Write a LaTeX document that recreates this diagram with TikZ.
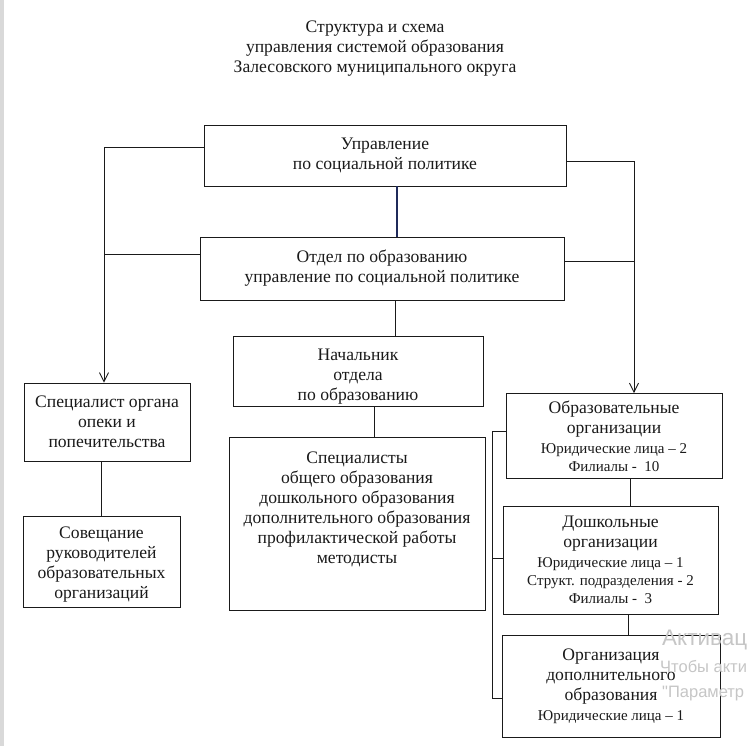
\documentclass[tikz,border=0pt]{standalone}
\usepackage{fontspec}
\setmainfont{Liberation Serif}
\newfontfamily\wmfont{Liberation Sans}
\usetikzlibrary{arrows.meta}
\definecolor{ink}{HTML}{1A1A1A}
\definecolor{navy}{HTML}{1F2A5A}
\definecolor{wmgray}{HTML}{C6C6C6}
\newcommand{\smt}[1]{{\fontsize{15}{17}\selectfont #1}}
\tikzset{
  box/.style={draw=ink, line width=0.9pt, inner sep=0pt, align=center, text=ink,
    font=\fontsize{17.6}{20}\selectfont},
  plaintext/.style={inner sep=0pt, align=center, text=ink, font=\fontsize{17.6}{20}\selectfont},
  conn/.style={draw=ink, line width=0.9pt},
  arr/.style={conn, -{Straight Barb[length=9pt,width=9pt,line width=0.9pt]}},
  wmtext/.style={inner sep=0pt, anchor=base west, text=wmgray},
}
\begin{document}
\begin{tikzpicture}[x=1pt,y=-1pt]
\useasboundingbox (0,0) rectangle (749,746);
\fill[white] (0,0) rectangle (749,746);
\fill[gray!30] (0,0) rectangle (3.5,746);

% title
\node[plaintext] (T) at (375,49) {Структура и схема\\управления системой образования\\Залесовского муниципального округа};

% boxes
\node[box, minimum width=362, minimum height=61] (A) at (385,155.5) {Управление\\по социальной политике};
\node[box, minimum width=364, minimum height=63] (B) at (382,268.5) {Отдел по образованию\\управление по социальной политике};
\node[box, minimum width=250, minimum height=70] (C) at (358,371) {};
\node[plaintext] (Ct) at (358,376.5) {Начальник\\отдела\\по образованию};
\node[box, minimum width=256, minimum height=173] (D) at (357,523.5) {};
\node[plaintext] (Dt) at (357,509) {Специалисты\\общего образования\\дошкольного образования\\дополнительного образования\\профилактической работы\\методисты};
\node[box, minimum width=166, minimum height=78] (E) at (107,422) {Специалист органа\\опеки и\\попечительства};
\node[box, minimum width=157, minimum height=91] (F) at (101.5,561.5) {};
\node[plaintext] (Ft) at (101.5,565) {Совещание\\руководителей\\образовательных\\организаций};
\node[box, minimum width=216, minimum height=85] (G) at (614,436) {Образовательные\\организации\\\smt{Юридические лица – 2}\\[-2pt]\smt{Филиалы -\ \ 10}};
\node[box, minimum width=215, minimum height=108] (H) at (610.5,560) {Дошкольные\\организации\\\smt{Юридические лица – 1}\\[-2pt]\smt{Структ. подразделения - 2}\\[-2pt]\smt{Филиалы -\ \ 3}};
\node[box, minimum width=218, minimum height=102] (I) at (611,686) {Организация\\дополнительного\\образования\\\smt{Юридические лица – 1}};

% helper coordinates
\coordinate (L1) at (104,147);
\coordinate (L2) at (104,254);
\coordinate (R1) at (634,161);
\coordinate (R2) at (634,261);
\coordinate (xAB) at (397,0);
\coordinate (xBC) at (395,0);
\coordinate (xCD) at (374,0);
\coordinate (xEF) at (101,0);
\coordinate (xGH) at (630,0);
\coordinate (xHI) at (628,0);
\coordinate (K1) at (492,431);
\coordinate (K2) at (492,558);
\coordinate (K3) at (492,698);

% connectors
\draw[arr] (A.west |- L1) -- (L1) -- (L1 |- E.north);
\draw[conn] (B.west |- L2) -- (L2);
\draw[arr] (A.east |- R1) -- (R1) -- (R1 |- G.north);
\draw[conn] (B.east |- R2) -- (R2);
\draw[draw=navy, line width=1.1pt] (A.south -| xAB) -- (B.north -| xAB);
\draw[conn] (B.south -| xBC) -- (C.north -| xBC);
\draw[conn] (C.south -| xCD) -- (D.north -| xCD);
\draw[conn] (E.south -| xEF) -- (F.north -| xEF);
\draw[conn] (G.south -| xGH) -- (H.north -| xGH);
\draw[conn] (H.south -| xHI) -- (I.north -| xHI);
\draw[conn] (G.west |- K1) -- (K1) -- (K3) -- (I.west |- K3);
\draw[conn] (K2) -- (H.west |- K2);

% watermark (only the part visible inside the page)
\node[wmtext, font=\wmfont\fontsize{22.5}{22.5}\selectfont] (W1) at (662,645) {Активац};
\node[wmtext, font=\wmfont\fontsize{16.5}{16.5}\selectfont] (W2) at (660,672) {Чтобы акти};
\node[wmtext, font=\wmfont\fontsize{16.5}{16.5}\selectfont] (W3) at (662,697) {"Параметр};
\end{tikzpicture}
\end{document}
